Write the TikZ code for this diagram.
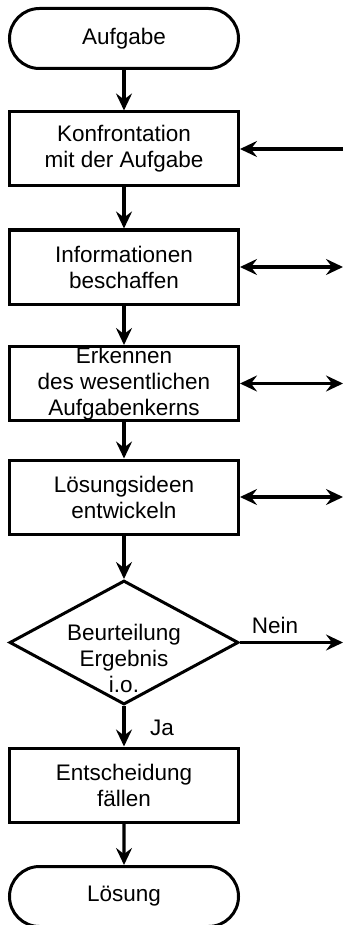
\documentclass[tikz,border=0pt]{standalone}
\usepackage{fontspec}
\setmainfont{Liberation Sans}
\usetikzlibrary{shapes,arrows.meta}

\begin{document}
\begin{tikzpicture}[x=1pt,y=-1pt,
		schritt/.style={draw,line width=3pt,minimum width=229pt,minimum height=74pt,inner sep=0pt,align=center,font=\fontsize{22.5}{26}\selectfont},
		terminal/.style={schritt,rounded rectangle,minimum height=60pt},
		frage/.style={draw,line width=3pt,diamond,minimum width=229pt,minimum height=124pt,inner sep=0pt},
		txt/.style={align=center,font=\fontsize{22.5}{26}\selectfont},
		pfeil/.style={line width=3.2pt,-{Stealth[length=17pt,width=16pt,inset=6pt]}},
		doppelpfeil/.style={line width=3.2pt,{Stealth[length=17pt,width=16pt,inset=6pt]}-{Stealth[length=17pt,width=16pt,inset=6pt]}}]
			\useasboundingbox (0,0) rectangle (343,925);
			% Ablauf
			\node[terminal] (aufgabe) at (124,38.5) {Aufgabe};
			\node[schritt] (konfront) at (124,149) {Konfrontation\\mit der Aufgabe};
			\node[schritt] (info) at (124,267) {Informationen\\beschaffen};
			\node[schritt] (kern) at (124,383.5) {Erkennen\\des wesentlichen\\Aufgabenkerns};
			\node[schritt] (ideen) at (124,497) {Lösungsideen\\entwickeln};
			\node[frage] (beurteil) at (124,642.5) {};
			\node[txt] (beurteiltxt) at (124,658) {Beurteilung\\Ergebnis\\i.o.};
			\node[schritt] (entscheid) at (124,785) {Entscheidung\\fällen};
			\node[terminal] (loesung) at (124,896.5) {Lösung};
			% rechte Enden
			\coordinate (rand1) at (343,149);
			\coordinate (rand2) at (343,267);
			\coordinate (rand3) at (343,383.5);
			\coordinate (rand4) at (343,497);
			\coordinate (rand5) at (343,642.5);
			% Verbindungen
			\draw[pfeil] (aufgabe) -- (konfront);
			\draw[pfeil] (konfront) -- (info);
			\draw[pfeil] (info) -- (kern);
			\draw[pfeil] (kern) -- (ideen);
			\draw[pfeil] (ideen) -- (beurteil);
			\draw[pfeil] (beurteil) -- (entscheid);
			\draw[pfeil] (entscheid) -- (loesung);
			% Rueckwirkungen
			\draw[pfeil] (rand1) -- (konfront.east);
			\draw[doppelpfeil] (info.east) -- (rand2);
			\draw[doppelpfeil] (kern.east) -- (rand3);
			\draw[doppelpfeil] (ideen.east) -- (rand4);
			\draw[pfeil] (beurteil.east) -- (rand5);
			% labels
			\node[txt] (nein) at (275,625) {Nein};
			\node[txt] (ja) at (162,728) {Ja};
\end{tikzpicture}
\end{document}
